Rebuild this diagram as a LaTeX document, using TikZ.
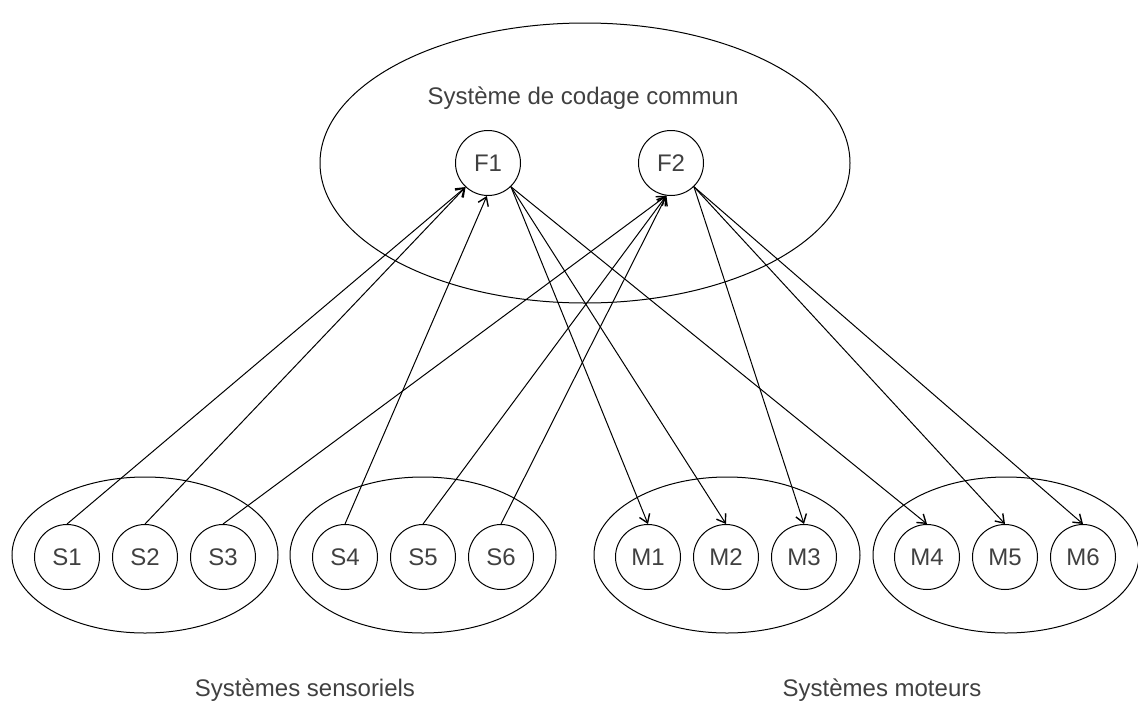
\documentclass[tikz,border=0pt]{standalone}
\usepackage{fontspec}
\setmainfont{Liberation Sans}
\usetikzlibrary{arrows.meta,positioning,shapes.geometric}
\tikzset{%
	unit/.style    = {draw, circle, minimum size=65pt, inner sep=0pt, text=black!75}, % Feature / code
	group/.style   = {draw, ellipse, minimum width=266pt, minimum height=156pt}, % System
	codage/.style  = {draw, ellipse, minimum width=530pt, minimum height=280pt},
	caption/.style = {text=black!75},
	arrow/.style   = {line width=1pt, -{Straight Barb[length=8pt,width=11pt,line width=1.4pt]}},
}

\begin{document}
\begin{tikzpicture}[x=1pt, y=-1pt, node distance=78pt, font=\fontsize{24}{28}\selectfont, line width=1pt]
	\useasboundingbox (0,0) rectangle (1138,702);
	% common coding
	\node[codage] (C) at (585,163) {};
	\node[caption] (Ctxt) at (583,98) {Système de codage commun};
	\node[unit] (F1) at (488,163) {F1};
	\node[unit] (F2) at (671,163) {F2};
	% sensory systems
	\node[group] (GS1) at (145,555) {};
	\node[group] (GS2) at (423,555) {};
	\node[unit] (S1) at (67,557) {S1};
	\node[unit,right of=S1] (S2) {S2};
	\node[unit,right of=S2] (S3) {S3};
	\node[unit] (S4) at (345,557) {S4};
	\node[unit,right of=S4] (S5) {S5};
	\node[unit,right of=S5] (S6) {S6};
	% motor systems
	\node[group] (GM1) at (727,555) {};
	\node[group] (GM2) at (1006,555) {};
	\node[unit] (M1) at (648,557) {M1};
	\node[unit,right of=M1] (M2) {M2};
	\node[unit,right of=M2] (M3) {M3};
	\node[unit] (M4) at (927,557) {M4};
	\node[unit,right of=M4] (M5) {M5};
	\node[unit,right of=M5] (M6) {M6};
	\node[caption] (Stxt) at (305,690) {Systèmes sensoriels};
	\node[caption] (Mtxt) at (882,690) {Systèmes moteurs};
	% perception
	\draw[arrow] (S1.north) -- (F1.-133);
	\draw[arrow] (S2.north) -- (F1.-133);
	\draw[arrow] (S4.north) -- (F1.-92);
	\draw[arrow] (S3.north) -- (F2.-98);
	\draw[arrow] (S5.north) -- (F2.-98);
	\draw[arrow] (S6.north) -- (F2.-98);
	% action
	\draw[arrow] (F1.-46) -- (M1.north);
	\draw[arrow] (F1.-46) -- (M2.north);
	\draw[arrow] (F1.-46) -- (M4.north);
	\draw[arrow] (F2.-46) -- (M3.north);
	\draw[arrow] (F2.-46) -- (M5.north);
	\draw[arrow] (F2.-46) -- (M6.north);
\end{tikzpicture}
\end{document}
